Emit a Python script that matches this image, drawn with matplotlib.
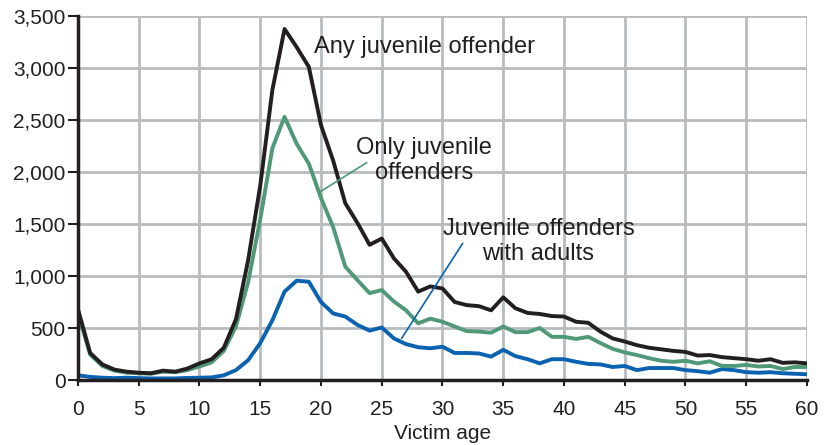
import matplotlib
matplotlib.use("Agg")
import matplotlib.pyplot as plt
from matplotlib import font_manager

ages = list(range(0, 61))
any_juv = [680, 260, 150, 100, 80, 70, 65, 90, 80, 110, 160, 200, 310, 585, 1150, 1870, 2790, 3375,
           3200, 3010, 2450, 2110, 1700, 1510, 1300, 1360, 1170, 1040, 850, 900, 880, 750, 720, 710,
           670, 795, 690, 645, 635, 615, 610, 560, 550, 465, 400, 370, 335, 310, 295, 280, 270,
           235, 240, 220, 210, 200, 185, 200, 165, 170, 160]
only_juv = [640, 245, 135, 90, 70, 65, 60, 80, 75, 95, 130, 170, 280, 515, 940, 1545, 2230, 2530,
            2270, 2080, 1750, 1470, 1090, 960, 835, 865, 755, 670, 545, 590, 560, 515, 470, 465,
            455, 515, 460, 460, 500, 415, 415, 395, 415, 355, 300, 265, 240, 210, 185, 175, 185,
            160, 180, 135, 135, 145, 130, 135, 105, 125, 125]
juv_adults = [45, 30, 22, 18, 22, 18, 15, 15, 15, 20, 22, 25, 45, 95, 190, 355, 575, 850,
              955, 945, 750, 640, 610, 530, 475, 505, 400, 345, 315, 305, 320, 260, 260, 255,
              225, 290, 230, 200, 160, 200, 200, 175, 155, 150, 125, 135, 95, 115, 115, 115, 95,
              85, 70, 105, 95, 75, 70, 75, 65, 60, 55]

xticks = list(range(0, 61, 5))
yticks = list(range(0, 3501, 500))
ytick_labels = ["0", "500", "1,000", "1,500", "2,000", "2,500", "3,000", "3,500"]

names = {f.name for f in font_manager.fontManager.ttflist}
narrow = "Liberation Sans Narrow" if "Liberation Sans Narrow" in names else "Liberation Sans"

fig = plt.figure(figsize=(8.29, 4.45), dpi=100)
ax = fig.add_axes([78/829, 1-380/445, (807-78)/829, (380-16)/445])

black = "#231f20"
green = "#4f9878"
blue = "#0a62b0"
grid = "#b9bcbf"

ax.plot(ages, juv_adults, color=blue, lw=2.8, solid_joinstyle="round", zorder=3)
ax.plot(ages, only_juv, color=green, lw=2.8, solid_joinstyle="round", zorder=4)
ax.plot(ages, any_juv, color=black, lw=2.8, solid_joinstyle="round", zorder=5)

ax.set_xlim(0, 60)
ax.set_ylim(0, 3500)
ax.set_xticks(xticks)
ax.set_yticks(yticks)
ax.set_yticklabels(ytick_labels)
ax.grid(True, color=grid, lw=2)
ax.set_axisbelow(True)
for s in ["top", "right"]:
    ax.spines[s].set_visible(False)
for s in ["left", "bottom"]:
    ax.spines[s].set_color(black)
    ax.spines[s].set_linewidth(2.5)
    ax.spines[s].set_zorder(6)
ax.tick_params(axis="x", direction="out", length=4.3, width=1.5, color=black,
               labelsize=15, labelcolor=black, pad=10)
ax.tick_params(axis="y", direction="out", length=7, width=1.5, color=black,
               labelsize=15, labelcolor=black, pad=2)
for lab in ax.get_xticklabels() + ax.get_yticklabels():
    lab.set_fontfamily(narrow)
ax.set_xlabel("Victim age", fontsize=15, fontfamily=narrow, color=black, labelpad=4)

tfont = dict(fontsize=17, fontfamily="Liberation Sans", color=black)
ax.text(19.4, 3205, "Any juvenile offender", ha="left", va="center", **tfont)
ax.text(28.5, 2110, "Only juvenile\noffenders", ha="center", va="center", linespacing=1.18, **tfont)
ax.text(37.9, 1330, "Juvenile offenders\nwith adults", ha="center", va="center", linespacing=1.18, **tfont)

ax.annotate("", xy=(19.95, 1811), xytext=(23.76, 2090),
            arrowprops=dict(arrowstyle="-", color=green, lw=1.2, shrinkA=0, shrinkB=0), zorder=6)
ax.annotate("", xy=(26.64, 401), xytext=(31.66, 1314),
            arrowprops=dict(arrowstyle="-", color=blue, lw=1.2, shrinkA=0, shrinkB=0), zorder=6)

fig.savefig("out.png", dpi=100)
